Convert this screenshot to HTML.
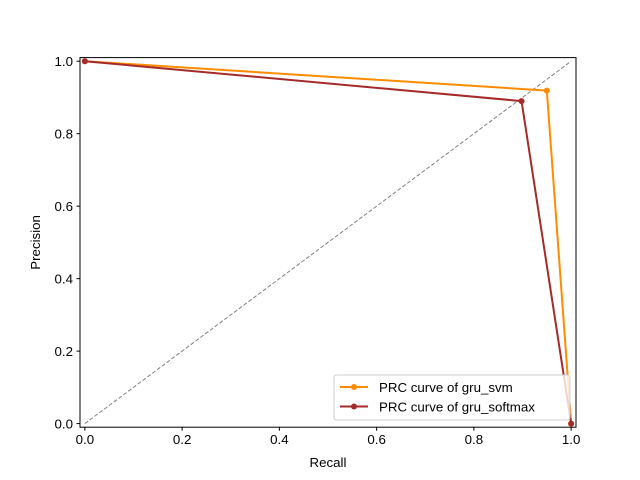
<!DOCTYPE html>
<html><head><meta charset="utf-8"><style>
html,body{margin:0;padding:0;background:#fff;}
svg{display:block;font-family:"Liberation Sans","DejaVu Sans",sans-serif;}
</style></head><body>
<svg id="chart" width="640" height="480" xmlns="http://www.w3.org/2000/svg">
<rect width="640" height="480" fill="#fff"/>
<g id="plot"></g>
</svg>
<script>
const seriesNames = ["PRC curve of gru_svm", "PRC curve of gru_softmax"];
const seriesColors = ["#ff8c00", "#a52a2a"];
const svmRecall = [0, 0.950, 1];
const svmPrecision = [1, 0.919, 0];
const softmaxRecall = [0, 0.898, 1];
const softmaxPrecision = [1, 0.890, 0];
const xTicks = [0, 0.2, 0.4, 0.6, 0.8, 1.0];
const yTicks = [0, 0.2, 0.4, 0.6, 0.8, 1.0];
const xTickLabels = ["0.0", "0.2", "0.4", "0.6", "0.8", "1.0"];
const yTickLabels = ["0.0", "0.2", "0.4", "0.6", "0.8", "1.0"];

const L = 80, R = 576, T = 57.6, B = 427.2;
const xMin = -0.01, xMax = 1.01, yMin = -0.01, yMax = 1.01;
const sx = v => L + (v - xMin) / (xMax - xMin) * (R - L);
const sy = v => B - (v - yMin) / (yMax - yMin) * (B - T);
const NS = "http://www.w3.org/2000/svg";
const g = document.getElementById("plot");
function mk(tag, attrs, parent) {
  const e = document.createElementNS(NS, tag);
  for (const k in attrs) e.setAttribute(k, attrs[k]);
  (parent || g).appendChild(e);
  return e;
}

// diagonal
const diag = mk("line", {x1: sx(0), y1: sy(0), x2: sx(1), y2: sy(1), stroke: "#808080", "stroke-width": 1, "stroke-dasharray": "4,2"});



const series = [[svmRecall, svmPrecision], [softmaxRecall, softmaxPrecision]];
series.forEach((s, i) => {
  const pts = s[0].map((x, j) => sx(x) + "," + sy(s[1][j])).join(" ");
  const pl = mk("polyline", {points: pts, fill: "none", stroke: seriesColors[i], "stroke-width": 2});
  
  
  s[0].forEach((x, j) => {
    const c = mk("circle", {cx: sx(x), cy: sy(s[1][j]), r: 3, fill: seriesColors[i]});
    
    
  });
});

// axes frame
const frame = mk("rect", {x: L, y: T, width: R - L, height: B - T, fill: "none", stroke: "#000", "stroke-width": 1});



xTicks.forEach((v, i) => {
  const t = mk("line", {x1: sx(v), y1: B, x2: sx(v), y2: B + 3.5, stroke: "#000"});
  
  
  const tx = mk("text", {x: sx(v), y: B + 17, "text-anchor": "middle", "font-size": 13.3});
  tx.textContent = xTickLabels[i];
  
  
});
yTicks.forEach((v, i) => {
  const t = mk("line", {x1: L - 3.5, y1: sy(v), x2: L, y2: sy(v), stroke: "#000"});
  
  
  const tx = mk("text", {x: L - 7, y: sy(v) + 5, "text-anchor": "end", "font-size": 13.3});
  tx.textContent = yTickLabels[i];
  
  
});

const xt = mk("text", {x: (L + R) / 2, y: 467, "text-anchor": "middle", "font-size": 13.3});
xt.textContent = "Recall";


const yt = mk("text", {x: 0, y: 0, "text-anchor": "middle", "font-size": 13.3, transform: "translate(40," + ((T + B) / 2) + ") rotate(-90)"});
yt.textContent = "Precision";



// legend
const lg = mk("g", {});


const lb = mk("rect", {x: 334, y: 375, width: 236, height: 45, rx: 2.5, fill: "#fff", "fill-opacity": 0.8, stroke: "#ccc"}, lg);


seriesNames.forEach((n, i) => {
  const y = 387 + i * 19.5;
  const ln = mk("line", {x1: 340, y1: y, x2: 368, y2: y, stroke: seriesColors[i], "stroke-width": 2}, lg);
  
  
  const c = mk("circle", {cx: 354, cy: y, r: 3, fill: seriesColors[i]}, lg);
  
  
  const t = mk("text", {x: 379, y: y + 5, "font-size": 13.3}, lg);
  t.textContent = n;
  
  
});
</script>
</body></html>
